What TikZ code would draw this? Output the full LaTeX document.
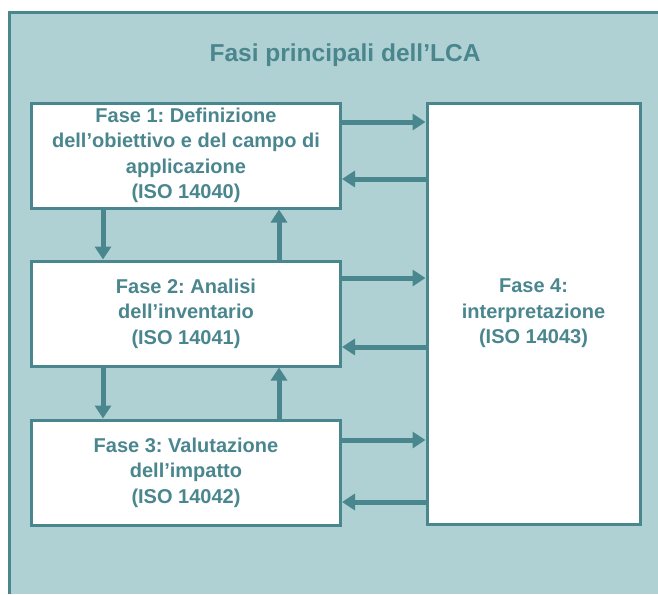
\documentclass[tikz,border=0pt]{standalone}
\usepackage{fontspec}
\setmainfont{Liberation Sans}
\frenchspacing
\usetikzlibrary{positioning,arrows.meta}
\definecolor{lcateal}{HTML}{4A868E}
\definecolor{lcabg}{HTML}{AFD1D3}
\tikzset{
  fase/.style={ % white box of one phase
    draw=lcateal, line width=3pt, fill=white, rectangle,
    minimum width=309pt, minimum height=105pt,
    inner sep=2pt, align=center, text=lcateal,
    font=\bfseries\fontsize{20}{25.5}\selectfont
  },
  flow/.style={ % thick arrow between phases
    draw=lcateal, line width=5pt,
    -{Triangle[length=13pt,width=16pt]}
  },
  frame/.style={
    draw=lcateal, line width=3pt
  }
}
\begin{document}
\begin{tikzpicture}[x=1pt,y=-1pt]
    \useasboundingbox (0,0) rectangle (658,594);
    % background panel, cut off at right and bottom
    \fill[lcabg] (9.5,13) rectangle (658,594);
    \draw[frame] (9.5,594) -- (9.5,13) -- (658,13);

    \node[text=lcateal,font=\bfseries\fontsize{24.5}{28}\selectfont] (title) at (345,55) {Fasi principali dell’LCA};

    \node[fase] (f1) at (186,155.5) {Fase 1: Definizione\\dell’obiettivo e del campo di\\applicazione\\(ISO 14040)};
    \node[fase,below=50pt of f1] (f2) {Fase 2: Analisi\\dell’inventario\\(ISO 14041)};
    \node[fase,below=51pt of f2] (f3) {Fase 3: Valutazione\\dell’impatto\\(ISO 14042)};
    \node[fase,minimum width=213pt,minimum height=421pt] (f4) at (533.5,313.5) {Fase 4:\\interpretazione\\(ISO 14043)};

    % down and up between phases
    \draw[flow] (f1.south -| 103,0) -- (f2.north -| 103,0);
    \draw[flow] (f2.north -| 279,0) -- (f1.south -| 279,0);
    \draw[flow] (f2.south -| 103,0) -- (f3.north -| 103,0);
    \draw[flow] (f3.north -| 279,0) -- (f2.south -| 279,0);

    % to and from interpretation
    \draw[flow] (f1.east |- 0,122) -- (f4.west |- 0,122);
    \draw[flow] (f4.west |- 0,179) -- (f1.east |- 0,179);
    \draw[flow] (f2.east |- 0,278) -- (f4.west |- 0,278);
    \draw[flow] (f4.west |- 0,347) -- (f2.east |- 0,347);
    \draw[flow] (f3.east |- 0,440) -- (f4.west |- 0,440);
    \draw[flow] (f4.west |- 0,502) -- (f3.east |- 0,502);
\end{tikzpicture}
\end{document}
